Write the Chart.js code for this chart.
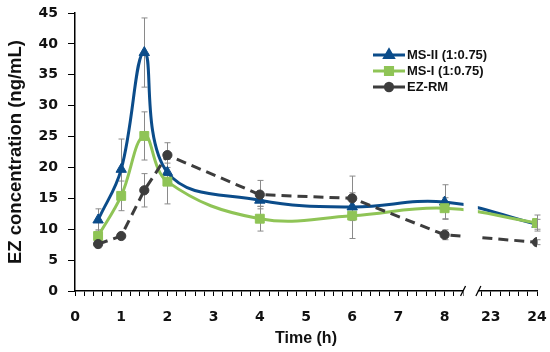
<!DOCTYPE html>
<html>
<head>
<meta charset="utf-8">
<script src="https://cdn.jsdelivr.net/npm/chart.js@4.4.1/dist/chart.umd.min.js"></script>
<style>
  html, body { margin: 0; padding: 0; background: #fff; }
  #wrap { width: 550px; height: 352px; position: relative; }
</style>
</head>
<body>
<div id="wrap"><canvas id="pkChart"></canvas></div>
<script>
// tempos de coleta (h) e concentrações médias ± DP (ng/mL)
const timeH   = [0.5, 1, 1.5, 2, 4, 6, 8, 24];
const msII    = [11.5, 19.7, 38.6, 19.2, 14.7, 13.6, 14.4, 10.8];
const msIIErr = [1.8, 4.9, 5.6, 1.5, 1.0, 1.2, 2.8, 0.8];
const msI     = [8.9, 15.4, 25.1, 17.7, 11.7, 12.2, 13.4, 11.0];
const msIErr  = [1.0, 2.4, 3.9, 3.6, 2.0, 3.7, 1.7, 1.3];
const ezrm    = [7.6, 8.9, 16.3, 22.0, 15.6, 15.0, 9.1, 7.9];
const ezrmErr = [0.6, 0.4, 2.7, 2.0, 2.3, 3.6, 0.8, 0.4];

const seriesNames = ['MS-II (1:0.75)', 'MS-I (1:0.75)', 'EZ-RM'];

// eixo x quebrado: 0–8 h normal, depois 23 e 24 h
const xTickPos    = [0, 1, 2, 3, 4, 5, 6, 7, 8, 9, 10];
const xTickLabels = ['0', '1', '2', '3', '4', '5', '6', '7', '8', '23', '24'];
const yTicks      = [0, 5, 10, 15, 20, 25, 30, 35, 40, 45];

const breakFrom = 8.41, breakTo = 8.72;
const axisPos = t => (t <= 8 ? t : t - 14);

const tickFont  = { family: "'DejaVu Sans', sans-serif", size: 14, weight: 'bold' };
const titleFont = { family: "'Liberation Sans', Arial, sans-serif", weight: 'bold' };

// ticks menores a cada 0.2, fora da quebra
const minorTicks = [];
for (let i = 0; i <= 50; i++) {
  const v = Math.round(i * 2) / 10;
  if (v > breakFrom && v < breakTo) continue;
  minorTicks.push(v);
}

const toPoints = vals => timeH.map((t, i) => ({ x: axisPos(t), y: vals[i] }));

const errorBars = {
  id: 'errorBars',
  beforeDatasetsDraw(chart) {
    const { ctx, scales: { y } } = chart;
    ctx.save();
    ctx.strokeStyle = '#8a8a8a';
    ctx.lineWidth = 1;
    chart.data.datasets.forEach((ds, i) => {
      chart.getDatasetMeta(i).data.forEach((pt, j) => {
        const v = ds.data[j].y, e = ds.errors[j];
        const top = y.getPixelForValue(v + e), bot = y.getPixelForValue(v - e);
        const x = Math.round(pt.x) + 0.5;
        ctx.beginPath();
        ctx.moveTo(x, top); ctx.lineTo(x, bot);
        ctx.moveTo(x - 3, top); ctx.lineTo(x + 3, top);
        ctx.moveTo(x - 3, bot); ctx.lineTo(x + 3, bot);
        ctx.stroke();
      });
    });
    ctx.restore();
  }
};

// quebra do eixo: apaga o trecho e desenha as barras "/"
const axisBreak = {
  id: 'axisBreak',
  afterDraw(chart) {
    const { ctx, chartArea, scales: { x } } = chart;
    const x0 = x.getPixelForValue(breakFrom), x1 = x.getPixelForValue(breakTo);
    ctx.save();
    ctx.fillStyle = '#fff';
    ctx.fillRect(x0, chartArea.top, x1 - x0, chartArea.bottom - chartArea.top + 9);
    ctx.strokeStyle = '#000';
    ctx.lineWidth = 1.3;
    [x0 - 0.5, x1 + 0.5].forEach(px => {
      ctx.beginPath();
      ctx.moveTo(px - 2.5, chartArea.bottom + 5);
      ctx.lineTo(px + 2.5, chartArea.bottom - 5);
      ctx.stroke();
    });
    ctx.restore();
  }
};

// Legenda manual (linha + marcador)
const legendBox = {
  id: 'legendBox',
  afterDraw(chart) {
    const { ctx } = chart;
    ctx.save();
    chart.data.datasets.forEach((ds, i) => {
      const yy = 55 + i * 16;
      ctx.strokeStyle = ds.borderColor;
      ctx.lineWidth = 3;
      ctx.setLineDash(ds.borderDash ? [11, 10] : []);
      ctx.beginPath();
      ctx.moveTo(373, yy); ctx.lineTo(405, yy);
      ctx.stroke();
      ctx.setLineDash([]);
      ctx.fillStyle = ds.backgroundColor;
      ctx.strokeStyle = ds.borderColor;
      Chart.helpers.drawPoint(ctx, {
        pointStyle: ds.pointStyle, radius: ds.pointRadius * 0.8, rotation: 0, borderWidth: 1
      }, 389, yy);
      ctx.fillStyle = '#111';
      ctx.font = "bold 13px 'Liberation Sans', Arial, sans-serif";
      ctx.textBaseline = 'middle';
      ctx.fillText(seriesNames[i], 407, yy + 0.5);
    });
    ctx.restore();
  }
};

const ctx = document.getElementById('pkChart').getContext('2d');

new Chart(ctx, {
  type: 'line',
  data: {
    datasets: [
      {
        label: seriesNames[0], data: toPoints(msII), errors: msIIErr,
        borderColor: '#0b4c8a', backgroundColor: '#0b4c8a',
        borderWidth: 3, pointStyle: 'triangle', pointRadius: 6, pointBorderWidth: 1,
        tension: 0.4, order: 3
      },
      {
        label: seriesNames[1], data: toPoints(msI), errors: msIErr,
        borderColor: '#8fc456', backgroundColor: '#8fc456',
        borderWidth: 3, pointStyle: 'rect', pointRadius: 6.3, pointBorderWidth: 1,
        tension: 0.4, order: 2
      },
      {
        label: seriesNames[2], data: toPoints(ezrm), errors: ezrmErr,
        borderColor: '#3d3d3d', backgroundColor: '#3d3d3d', borderDash: [10, 6],
        borderWidth: 3, pointStyle: 'circle', pointRadius: 4.6, pointBorderWidth: 1,
        tension: 0, order: 1
      }
    ]
  },
  options: {
    responsive: true,
    maintainAspectRatio: false,
    animation: false,
    layout: { padding: { top: 13, right: 13, left: 0, bottom: 0 } },
    plugins: {
      legend: { display: false },
      tooltip: { enabled: false }
    },
    scales: {
      x: {
        type: 'linear', min: 0, max: 10,
        afterBuildTicks: s => { s.ticks = minorTicks.map(v => ({ value: v })); },
        afterFit: s => { s.height = 61; s.paddingLeft = 0; s.paddingRight = 0; },
        grid: { drawOnChartArea: false, drawTicks: true, tickLength: 5, color: '#000', lineWidth: 1 },
        border: { color: '#000', width: 1.5 },
        ticks: {
          autoSkip: false, maxRotation: 0, padding: 13,
          font: tickFont, color: '#111',
          callback: v => {
            const k = xTickPos.indexOf(Math.round(v * 100) / 100);
            return k >= 0 ? xTickLabels[k] : '';
          }
        },
        title: { display: true, text: 'Time (h)', font: { ...titleFont, size: 16 }, color: '#111', padding: { top: 0, bottom: 4 } }
      },
      y: {
        min: 0, max: 45,
        afterBuildTicks: s => { s.ticks = yTicks.map(v => ({ value: v })); },
        afterFit: s => { s.width = 75; s.paddingTop = 0; s.paddingBottom = 0; },
        grid: { drawOnChartArea: false, drawTicks: true, tickLength: 7, color: '#000', lineWidth: 1 },
        border: { color: '#000', width: 1.5 },
        ticks: { padding: 10, font: tickFont, color: '#111' },
        title: { display: true, text: 'EZ concentration (ng/mL)', font: { ...titleFont, size: 18.5 }, color: '#111', padding: { top: 5, bottom: 0 } }
      }
    }
  },
  plugins: [errorBars, axisBreak, legendBox]
});
</script>
</body>
</html>
